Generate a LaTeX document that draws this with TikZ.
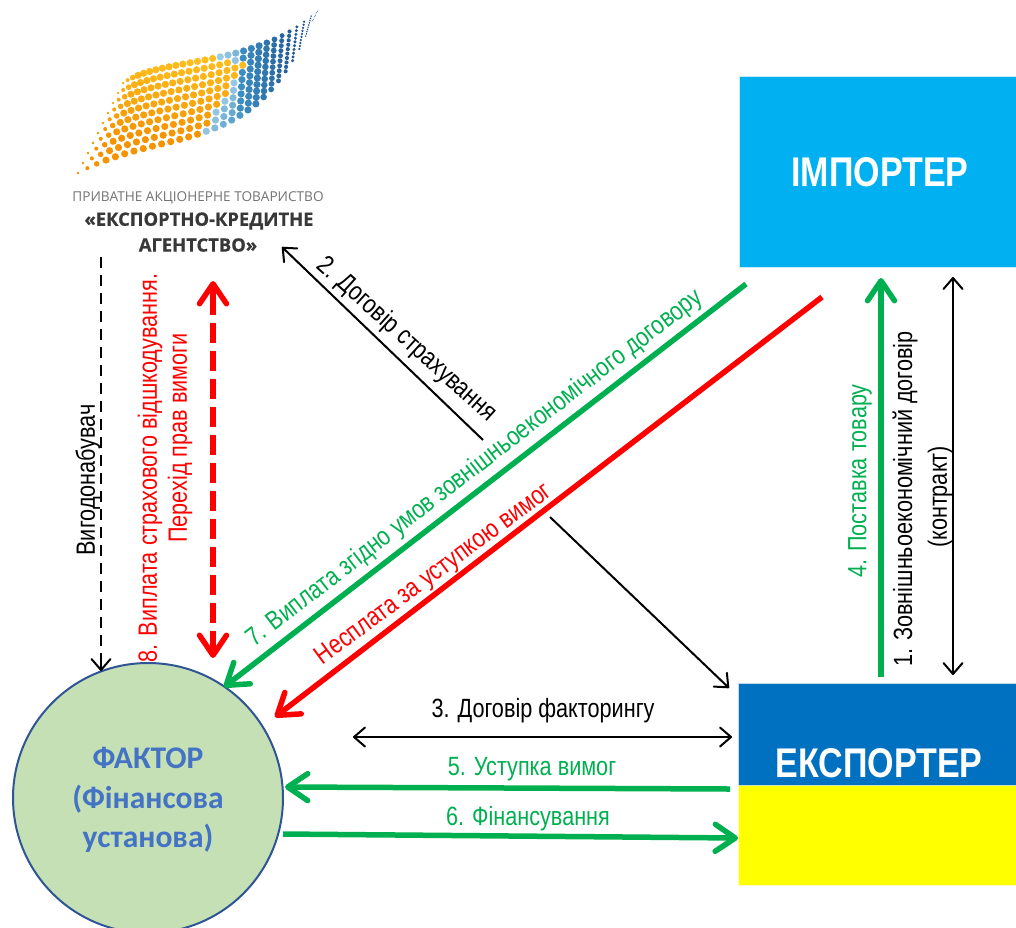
\documentclass[tikz,border=0pt]{standalone}
\usepackage{fontspec}
\setmainfont[FakeStretch=0.82]{Liberation Sans}
\newfontfamily\calfont{Carlito}
\newfontfamily\logofont{Open Sans}
\usetikzlibrary{arrows.meta}
\definecolor{cgreen}{HTML}{00B050}
\definecolor{cred}{HTML}{FF0000}
\definecolor{lOr}{HTML}{F59300}
\definecolor{lYe}{HTML}{FFBE1E}
\definecolor{lLt}{HTML}{9CCBE2}
\definecolor{lMd}{HTML}{3C8FC4}
\definecolor{lDk}{HTML}{1C4E8C}
\definecolor{cimp}{HTML}{00B0F0}
\definecolor{cexp}{HTML}{0070C0}
\definecolor{cyel}{HTML}{FFFF00}
\definecolor{cbord}{HTML}{2F5597}
\definecolor{cfill}{HTML}{C5E0B4}
\definecolor{ctext}{HTML}{4472C4}
\pgfmathdeclarefunction{bez}{5}{\pgfmathparse{(1-#5)^3*#1+3*(1-#5)^2*#5*#2+3*(1-#5)*#5^2*#3+#5^3*#4}}
\tikzset{
  tipb/.tip={Straight Barb[round,length=11pt,width=19pt,line width=2pt]},
  tipt/.tip={Straight Barb[round,length=20pt,width=27pt,line width=5.5pt]},
  lab/.style={font=\fontsize{26.4}{29}\selectfont,inner sep=0pt,align=center},
  thinarrow/.style={draw=black,line width=2pt},
  thickg/.style={draw=cgreen,line width=5.5pt,-{tipt}},
  thickr/.style={draw=cred,line width=5.5pt,-{tipt}},
  flag/.style={inner sep=0pt,minimum width=280pt,anchor=north west,draw opacity=.25,line width=2pt},
  ttl/.style={font=\fontsize{41.5}{46}\selectfont\bfseries,text=white,inner sep=0pt},
}
\begin{document}
\begin{tikzpicture}[x=1pt,y=-1pt]
\useasboundingbox (0,0) rectangle (1016,927);
% logo dots
\foreach \r [count=\ri from 0] in {202,207,212,220,227,232,236,244,230,220}{
  \foreach \c in {0,...,28}{
    \pgfmathsetmacro\u{\c/28}
    \pgfmathsetmacro\v{\ri/9}
    \pgfmathsetmacro\bx{bez(78,165,255,312,\u)}
    \pgfmathsetmacro\by{bez(173,125,160,22,\u)}
    \pgfmathsetmacro\tx{bez(123,165,255,318,\u)}
    \pgfmathsetmacro\ty{bez(83,55,70,10,\u)}
    \pgfmathsetmacro\px{\bx+\v*(\tx-\bx)}
    \pgfmathsetmacro\py{\by+\v*(\ty-\by)}
    \pgfmathsetmacro\rad{3.6*min(1,min(0.35+6*\u,0.12+3.2*(1-\u)))}
    \pgfmathsetmacro\isblue{\px>\r?1:0}
    \pgfmathsetmacro\pc{min(100,max(0,(\px-\r)*2.2))}
    \pgfmathsetmacro\pd{min(100,max(0,(\px-240)*1.5))}
    \pgfmathsetmacro\po{min(100,max(0,(\py-60)*1.3))}
    \ifdim\isblue pt>0.5pt
      \ifdim\px pt>240pt
        \fill[lDk!\pd!lMd] (\px,\py) circle[radius=\rad];
      \else
        \fill[lMd!\pc!lLt] (\px,\py) circle[radius=\rad];
      \fi
    \else
      \fill[lOr!\po!lYe] (\px,\py) circle[radius=\rad];
    \fi
  }
}
% logo text
\node (lt1) at (198,198) [inner sep=0pt,text=black!55] {\logofont\fontsize{13.6}{15}\selectfont ПРИВАТНЕ АКЦІОНЕРНЕ ТОВАРИСТВО};
\node (lt2) at (199,221) [inner sep=0pt,text=black!78] {\logofont\fontsize{18.4}{20}\selectfont\bfseries\addfontfeature{FakeBold=0.6}«ЕКСПОРТНО-КРЕДИТНЕ};
\node (lt3) at (198,245) [inner sep=0pt,text=black!78] {\logofont\fontsize{18.4}{20}\selectfont\bfseries\addfontfeature{FakeBold=0.6}АГЕНТСТВО»};
% boxes
\node (imp) [flag,minimum height=190pt,fill=cimp,draw=cimp] at (739,76) {};
\node (exb) [flag,minimum height=101pt,fill=cexp,draw=cexp] at (738,683) {};
\node (exy) [flag,minimum height=99pt,fill=cyel,draw=cyel] at (738,785) {};
\node (timp) at (880,172) [ttl] {ІМПОРТЕР};
\node (texp) at (879,763) [ttl] {ЕКСПОРТЕР};
% circle
\node (fak) at (148,798) [circle,minimum size=270pt,inner sep=0pt,draw=cbord,line width=2pt,fill=cfill] {};
\node (tfak) at (148,800) [inner sep=0pt,text=ctext,align=center,font=\calfont\fontsize{31.5}{39.5}\selectfont\bfseries] {ФАКТОР\\(Фінансова\\установа)};
% coordinates
\coordinate (a2s) at (483,440);
\coordinate (a2e) at (282,247);
\coordinate (a2bs) at (550,517);
\coordinate (a2be) at (729,688);
\coordinate (ds) at (101,257);
\coordinate (de) at (101,671);
\coordinate (rds) at (213,281);
\coordinate (rde) at (213,658);
\coordinate (g7s) at (746,284);
\coordinate (g7e) at (224,687);
\coordinate (r9s) at (822,297);
\coordinate (r9e) at (275,717);
\coordinate (g4s) at (881,677);
\coordinate (g4e) at (881,278);
\coordinate (bs) at (953,277);
\coordinate (be) at (953,675);
\coordinate (f3s) at (353,737);
\coordinate (f3e) at (732,737);
\coordinate (g5s) at (730,789);
\coordinate (g5e) at (285,787);
\coordinate (g6s) at (283,834);
\coordinate (g6e) at (738,838);
% connectors
\draw[thinarrow,-{tipb}] (a2s) -- (a2e);
\draw[thinarrow,-{tipb}] (a2bs) -- (a2be);
\draw[thinarrow,dash pattern=on 11pt off 7pt] (ds) -- (de);
\draw[thinarrow,-{tipb}] (101,662) -- (de);
\draw[draw=cred,line width=5.5pt,dash pattern=on 20pt off 8pt] (213,295) -- (rde);
\draw[thickr] (213,296) -- (rds);
\draw[thickr] (213,643) -- (rde);
\draw[thickg] (g7s) -- (g7e);
\draw[thickr] (r9s) -- (r9e);
\draw[thickg] (g4s) -- (g4e);
\draw[thinarrow,{tipb}-{tipb}] (bs) -- (be);
\draw[thinarrow,{tipb}-{tipb}] (f3s) -- (f3e);
\draw[thickg] (g5s) -- (g5e);
\draw[thickg] (g6s) -- (g6e);
% labels
\node[lab,rotate=-42,anchor=base] (l2) at (402,345) {2. Договір страхування};
\node[lab,rotate=90,text=cred] (l8) at (150,468) {8. Виплата страхового відшкодування.};
\node[lab,rotate=90,text=cred] (l8b) at (180,438) {Перехід прав вимоги};
\node[lab,rotate=90] (lv) at (88,480) {Вигодонабувач};
\node[lab,rotate=90,text=cgreen] (l4) at (860,481) {4. Поставка товару};
\node[lab,rotate=90] (l1) at (905,499) {1. Зовнішньоекономічний договір};
\node[lab,rotate=90] (l1b) at (940,497) {(контракт)};
\node[lab,rotate=37.6,text=cgreen,anchor=base] (l7) at (479,474) {7. Виплата згідно умов зовнішньоекономічного договору};
\node[lab,rotate=36.5,text=cred,anchor=base] (l9) at (438,580) {Несплата за уступкою вимог};
\node[lab] (l3) at (543,711) {3. Договір факторингу};
\node[lab,text=cgreen] (l5) at (532,769) {5. Уступка вимог};
\node[lab,text=cgreen] (l6) at (528,819) {6. Фінансування};
\end{tikzpicture}
\end{document}
